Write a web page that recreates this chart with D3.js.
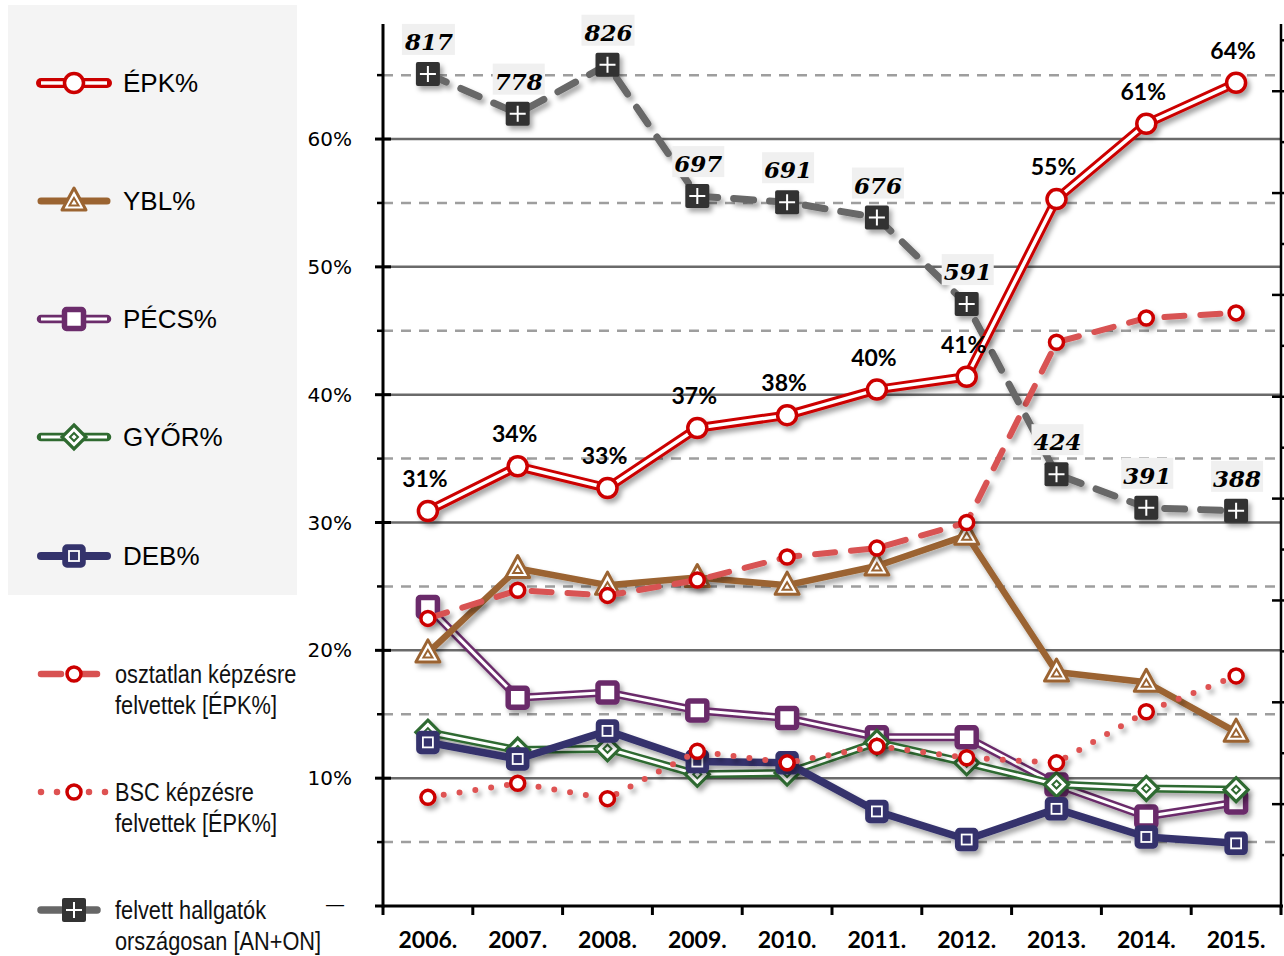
<!doctype html>
<html>
<head>
<meta charset="utf-8">
<style>
    body { margin: 0; background: #fff; }
    svg { display: block; }
    .ytick { font-family: "DejaVu Sans", sans-serif; font-size: 20px; fill: #000; }
    .xtick { font-family: Lato, "Open Sans", sans-serif; font-weight: bold; font-size: 23px; fill: #000; }
    .leg { font-family: "Liberation Sans", Arial, sans-serif; font-size: 26px; fill: #000; }
    .leg2 { font-family: "Liberation Sans", sans-serif; font-size: 25px; fill: #111; }
    .pct { font-family: Lato, "Open Sans", sans-serif; font-weight: bold; font-size: 23px; fill: #000; }
    .cnt { font-family: "DejaVu Serif", serif; font-weight: bold; font-style: italic; font-size: 23px; fill: #000; }
</style>
<script src="https://cdn.jsdelivr.net/npm/d3@7"></script>
</head>
<body>
<svg id="chart" width="1284" height="956"></svg>
<script>
    // years on the x axis
    var years = ["2006.", "2007.", "2008.", "2009.", "2010.", "2011.", "2012.", "2013.", "2014.", "2015."];

    // left axis series (%)
    var epk       = [30.9, 34.4, 32.7, 37.4, 38.4, 40.4, 41.4, 55.3, 61.2, 64.4];
    var ybl       = [19.8, 26.4, 25.1, 25.7, 25.1, 26.6, 29.0, 18.3, 17.5, 13.6];
    var pecs      = [23.4, 16.3, 16.7, 15.3, 14.7, 13.2, 13.2, 9.5, 7.0, 8.1];
    var gyor      = [13.6, 12.2, 12.3, 10.3, 10.4, 12.8, 11.2, 9.5, 9.2, 9.1];
    var deb       = [12.8, 11.5, 13.7, 11.3, 11.2, 7.4, 5.2, 7.6, 5.4, 4.9];
    var osztatlan = [22.5, 24.7, 24.3, 25.5, 27.3, 28.0, 30.0, 44.1, 46.0, 46.4];
    var bsc       = [8.5, 9.6, 8.4, 12.1, 11.2, 12.5, 11.6, 11.2, 15.2, 18.0];

    // right axis series (head count)
    var felvett = [817, 778, 826, 697, 691, 676, 591, 424, 391, 388];

    var yTicks = [10, 20, 30, 40, 50, 60];

    var svg = d3.select("#chart");

    var defs = svg.append("defs");
    var f = defs.append("filter").attr("id", "shadow")
        .attr("x", "-20%").attr("y", "-20%").attr("width", "140%").attr("height", "140%");
    f.append("feDropShadow").attr("dx", 3).attr("dy", 4).attr("stdDeviation", 2.5)
        .attr("flood-color", "#000").attr("flood-opacity", 0.35);

    var plotL = 383, plotR = 1281, plotT = 24, plotB = 906;

    var x = d3.scaleBand().domain(years).range([plotL, plotR]);
    var y = d3.scaleLinear().domain([0, 69]).range([plotB, plotT]);
    var y2 = d3.scaleLinear().domain([0, 866]).range([plotB, plotT]);
    var cx = function(i) { return x(years[i]) + x.bandwidth() / 2; };

    // legend panel
    svg.append("rect").attr("x", 8).attr("y", 5).attr("width", 289).attr("height", 590)
        .attr("fill", "#f4f4f4");

    // gridlines
    var grid = svg.append("g");
    d3.range(5, 69, 5).forEach(function(v) {
        var major = v % 10 === 0;
        grid.append("line")
            .attr("x1", plotL).attr("x2", plotR)
            .attr("y1", y(v)).attr("y2", y(v))
            .attr("stroke", major ? "#6a6a6a" : "#9e9e9e")
            .attr("stroke-width", 2.5)
            .attr("stroke-dasharray", major ? null : "10 8");
    });

    // left axis
    var axL = svg.append("g");
    axL.append("line").attr("x1", plotL).attr("x2", plotL).attr("y1", plotT).attr("y2", plotB + 1.5)
        .attr("stroke", "#000").attr("stroke-width", 3);
    d3.range(5, 69, 5).forEach(function(v) {
        var major = v % 10 === 0;
        axL.append("line").attr("x1", major ? 375 : 377).attr("x2", major ? 391 : 383)
            .attr("y1", y(v)).attr("y2", y(v)).attr("stroke", "#000").attr("stroke-width", major ? 3 : 2.5);
    });
    axL.selectAll("text.ytick").data(yTicks).enter().append("text")
        .attr("class", "ytick").attr("x", 352).attr("y", function(d) { return y(d) + 7; })
        .attr("text-anchor", "end").text(function(d) { return d + "%"; });
    axL.append("text").attr("class", "ytick").attr("x", 345).attr("y", y(0) + 5)
        .attr("text-anchor", "end").text("—");

    // right axis (labels fall outside the picture)
    var axR = svg.append("g");
    axR.append("line").attr("x1", plotR).attr("x2", plotR).attr("y1", plotT).attr("y2", plotB + 1.5)
        .attr("stroke", "#000").attr("stroke-width", 2.5);
    d3.range(50, 866, 50).forEach(function(v) {
        var major = v % 100 === 0;
        axR.append("line").attr("x1", major ? plotR - 9 : plotR).attr("x2", plotR + 4)
            .attr("y1", y2(v)).attr("y2", y2(v)).attr("stroke", "#000").attr("stroke-width", 2.5);
    });

    // x axis
    var axB = svg.append("g");
    axB.append("line").attr("x1", plotL - 8).attr("x2", plotR + 2).attr("y1", plotB).attr("y2", plotB)
        .attr("stroke", "#000").attr("stroke-width", 3);
    d3.range(0, years.length + 1).forEach(function(i) {
        var xx = plotL + i * x.bandwidth();
        axB.append("line").attr("x1", xx).attr("x2", xx).attr("y1", plotB).attr("y2", plotB + 9)
            .attr("stroke", "#000").attr("stroke-width", 3);
    });
    axB.selectAll("text.xtick").data(years).enter().append("text")
        .attr("class", "xtick").attr("x", function(d, i) { return cx(i); }).attr("y", 948)
        .attr("text-anchor", "middle").text(function(d) { return d; });

    // markers
    function marker(g, type, px, py, col) {
        if (type === "circle") {
            g.append("circle").attr("cx", px).attr("cy", py).attr("r", 9.5)
                .attr("fill", "#fff").attr("stroke", "#cc0000").attr("stroke-width", 3.5);
        } else if (type === "circleS") {
            g.append("circle").attr("cx", px).attr("cy", py).attr("r", 7)
                .attr("fill", "#fff").attr("stroke", "#cc0000").attr("stroke-width", 3.5);
        } else if (type === "tri") {
            g.append("path").attr("d", "M" + px + "," + (py - 13) + "L" + (px + 12) + "," + (py + 9) + "L" + (px - 12) + "," + (py + 9) + "Z")
                .attr("fill", "#fff").attr("stroke", col).attr("stroke-width", 3).attr("stroke-linejoin", "round");
            g.append("path").attr("d", "M" + px + "," + (py - 3) + "L" + (px + 4.5) + "," + (py + 4.5) + "L" + (px - 4.5) + "," + (py + 4.5) + "Z")
                .attr("fill", "none").attr("stroke", col).attr("stroke-width", 2);
        } else if (type === "sq") {
            g.append("rect").attr("x", px - 9.5).attr("y", py - 9.5).attr("width", 19).attr("height", 19).attr("rx", 2)
                .attr("fill", "#fff").attr("stroke", col).attr("stroke-width", 5.5);
        } else if (type === "sqdot") {
            g.append("rect").attr("x", px - 10).attr("y", py - 10).attr("width", 20).attr("height", 20).attr("rx", 3)
                .attr("fill", col).attr("stroke", col).attr("stroke-width", 3.5);
            g.append("rect").attr("x", px - 5).attr("y", py - 5).attr("width", 10).attr("height", 10)
                .attr("fill", col).attr("stroke", "#fff").attr("stroke-width", 1.8);
        } else if (type === "dia") {
            g.append("path").attr("d", "M" + px + "," + (py - 12) + "L" + (px + 12) + "," + py + "L" + px + "," + (py + 12) + "L" + (px - 12) + "," + py + "Z")
                .attr("fill", "#fff").attr("stroke", col).attr("stroke-width", 3.2);
            g.append("path").attr("d", "M" + px + "," + (py - 4) + "L" + (px + 4) + "," + py + "L" + px + "," + (py + 4) + "L" + (px - 4) + "," + py + "Z")
                .attr("fill", "none").attr("stroke", col).attr("stroke-width", 2);
        } else if (type === "plus") {
            g.append("rect").attr("x", px - 12).attr("y", py - 12).attr("width", 24).attr("height", 24).attr("rx", 2)
                .attr("fill", "#333");
            g.append("path").attr("d", "M" + (px - 8) + "," + py + "H" + (px + 8) + "M" + px + "," + (py - 8) + "V" + (py + 8))
                .attr("stroke", "#fff").attr("stroke-width", 2);
        }
    }

    // series styles, drawing order bottom to top
    var series = [
        {data: pecs, scale: y, col: "#6b2c6b", w: 8, inner: 3, mk: "sq", name: "PÉCS%", ly: 319},
        {data: gyor, scale: y, col: "#2f6a30", w: 8, inner: 3, mk: "dia", name: "GYŐR%", ly: 437},
        {data: deb, scale: y, col: "#34336c", w: 7.5, mk: "sqdot", name: "DEB%", ly: 556},
        {data: ybl, scale: y, col: "#9b6431", w: 6.5, mk: "tri", name: "YBL%", ly: 201},
        {data: osztatlan, scale: y, col: "#d85252", w: 6, dash: "20 16", mk: "circleS",
            name: ["osztatlan képzésre", "felvettek [ÉPK%]"], ly: 674},
        {data: bsc, scale: y, col: "#de5252", w: 6, dash: "0 16", mk: "circleS",
            name: ["BSC képzésre", "felvettek [ÉPK%]"], ly: 792},
        {data: felvett, scale: y2, col: "#676767", w: 7, dash: "20 16", mk: "plus",
            name: ["felvett hallgatók", "országosan [AN+ON]"], ly: 910},
        {data: epk, scale: y, col: "#cc0000", w: 9.5, inner: 3.5, mk: "circle", name: "ÉPK%", ly: 83}
    ];

    var line = d3.line();

    series.forEach(function(s) {
        var pts = s.data.map(function(v, i) { return [cx(i), s.scale(v)]; });
        var g = svg.append("g").attr("filter", "url(#shadow)");
        g.append("path").attr("d", line(pts)).attr("fill", "none")
            .attr("stroke", s.col).attr("stroke-width", s.w)
            .attr("stroke-linejoin", "round")
            .attr("stroke-linecap", s.dash ? "round" : "butt")
            .attr("stroke-dasharray", s.dash || null);
        if (s.inner) {
            g.append("path").attr("d", line(pts)).attr("fill", "none")
                .attr("stroke", "#fff").attr("stroke-width", s.inner).attr("stroke-linejoin", "round");
        }
        pts.forEach(function(p) { marker(g, s.mk, p[0], p[1], s.col); });

        // legend entry
        var lg = svg.append("g");
        lg.append("line").attr("x1", 41).attr("x2", 107).attr("y1", s.ly).attr("y2", s.ly)
            .attr("stroke", s.col).attr("stroke-width", s.w + 0.5)
            .attr("stroke-linecap", "round")
            .attr("stroke-dasharray", s.dash || null);
        if (s.inner) {
            lg.append("line").attr("x1", 41).attr("x2", 107).attr("y1", s.ly).attr("y2", s.ly)
                .attr("stroke", "#fff").attr("stroke-width", s.inner);
        }
        marker(lg, s.mk, 74, s.ly, s.col);
        if (Array.isArray(s.name)) {
            s.name.forEach(function(t, k) {
                lg.append("text").attr("class", "leg2")
                    .attr("transform", "translate(115," + (s.ly + 9 + k * 31) + ") scale(0.87,1)")
                    .text(t);
            });
        } else {
            lg.append("text").attr("class", "leg").attr("x", 123).attr("y", s.ly + 9).text(s.name);
        }
    });

    // percentage labels on ÉPK
    svg.append("g").selectAll("text").data(epk).enter().append("text")
        .attr("class", "pct")
        .attr("x", function(d, i) { return cx(i) - 3; })
        .attr("y", function(d) { return y(d) - 24; })
        .attr("text-anchor", "middle")
        .text(function(d) { return d3.format(".0f")(d) + "%"; });

    // head count labels with light boxes
    var cl = svg.append("g");
    felvett.forEach(function(v, i) {
        var t = cl.append("text").attr("class", "cnt")
            .attr("x", cx(i) + 1).attr("y", y2(v) - 24)
            .attr("text-anchor", "middle").text(v);
        var b = t.node().getBBox();
        cl.insert("rect", "text").attr("x", b.x - 2).attr("y", y2(v) - 50)
            .attr("width", b.width + 4).attr("height", 31).attr("fill", "#f0f0f0");
    });
</script>
</body>
</html>
